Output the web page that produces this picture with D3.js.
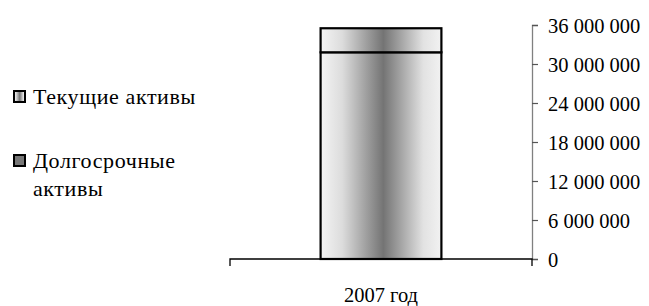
<!DOCTYPE html>
<html>
<head>
<meta charset="utf-8">
<script src="https://cdn.jsdelivr.net/npm/d3@7"></script>
<style>
  body { margin: 0; background: #fff; }
  svg { display: block; }
  svg text { font-family: 'Liberation Serif', 'DejaVu Serif', serif; }
</style>
</head>
<body>
<svg id="chart"></svg>
<script>
// Chart data
const categories = ["2007 год"];
const seriesNames = ["Долгосрочные активы", "Текущие активы"];
const longTermAssets = [31800000];
const currentAssets = [3700000];
const yTicks = [0, 6000000, 12000000, 18000000, 24000000, 30000000, 36000000];

const width = 649;
const height = 306;
const serif = "'Liberation Serif', 'DejaVu Serif', serif";

const svg = d3.select("#chart")
    .attr("width", width)
    .attr("height", height);

// Horizontal gradient used for the bars (light edges, dark middle)
const defs = svg.append("defs");
const grad = defs.append("linearGradient")
    .attr("id", "barGrad")
    .attr("x1", "0%").attr("x2", "100%")
    .attr("y1", "0%").attr("y2", "0%");
[[0, "#f4f4f4"], [0.18, "#dcdcdc"], [0.52, "#747474"], [0.85, "#e2e2e2"], [1, "#f2f2f2"]]
  .forEach(([o, c]) => grad.append("stop").attr("offset", o).attr("stop-color", c));

// Scales
const x = d3.scaleBand()
    .domain(categories)
    .range([230, 532])
    .paddingInner(0.6)
    .paddingOuter(0.3);

const y = d3.scaleLinear()
    .domain([0, 36000000])
    .range([259, 25]);

const locale = d3.formatLocale({decimal: ",", thousands: "\u00a0", grouping: [3], currency: ["", ""]});
const format = locale.format(",d");

// Stacked data
const stackData = categories.map((c, i) => ({
  cat: c, long: longTermAssets[i], current: currentAssets[i]
}));
const stack = d3.stack().keys(["long", "current"]);
const layers = stack(stackData);

svg.append("g")
  .selectAll("g")
  .data(layers)
  .join("g")
  .selectAll("rect")
  .data(d => d)
  .join("rect")
    .attr("x", d => x(d.data.cat))
    .attr("width", x.bandwidth())
    .attr("y", d => y(d[1]))
    .attr("height", d => y(d[0]) - y(d[1]))
    .attr("fill", "url(#barGrad)")
    .attr("stroke", "#000")
    .attr("stroke-width", 2.2);

// Y axis on the right
const yAxis = svg.append("g")
    .attr("transform", `translate(532,0)`)
    .call(d3.axisRight(y).tickValues(yTicks).tickFormat(format).tickSize(6).tickPadding(10));
yAxis.attr("font-family", serif);
yAxis.select(".domain").attr("stroke", "#808080").attr("stroke-width", 1.3);
yAxis.selectAll(".tick line").attr("stroke", "#555").attr("stroke-width", 1.2);
yAxis.selectAll(".tick text")
    .attr("font-size", 20.5)
    .attr("fill", "#000")
    .attr("dy", "0.38em");

// X axis with end ticks at category boundaries
const xAxis = svg.append("g")
    .attr("transform", `translate(0,${y(0)})`)
    .call(d3.axisBottom(x).tickSize(0).tickPadding(28));
xAxis.attr("font-family", serif);
xAxis.select(".domain").remove();
xAxis.append("path")
    .attr("d", `M${x.range()[0]},7V0H${x.range()[1]}V7`)
    .attr("fill", "none")
    .attr("stroke", "#000")
    .attr("stroke-width", 1.3);
xAxis.selectAll(".tick text")
    .attr("font-size", 20.5)
    .attr("fill", "#000");

// Legend (top-most series listed first)
const legendItems = [
  {name: seriesNames[1], lines: ["Текущие активы"], y: 91, fill: "url(#barGrad)"},
  {name: seriesNames[0], lines: ["Долгосрочные", "активы"], y: 155, fill: "#777"}
];
const legend = svg.append("g");
const item = legend.selectAll("g")
  .data(legendItems)
  .join("g")
    .attr("transform", d => `translate(14,${d.y})`);
item.append("rect")
    .attr("width", 11)
    .attr("height", 11)
    .attr("fill", d => d.fill)
    .attr("stroke", "#000")
    .attr("stroke-width", 2);
const t = item.append("text")
    .attr("font-size", 22)
    .attr("letter-spacing", 0.6)
    .attr("fill", "#000");
t.selectAll("tspan")
  .data(d => d.lines)
  .join("tspan")
    .attr("x", 19)
    .attr("y", (d, i) => 13 + i * 28)
    .text(d => d);
</script>
</body>
</html>
